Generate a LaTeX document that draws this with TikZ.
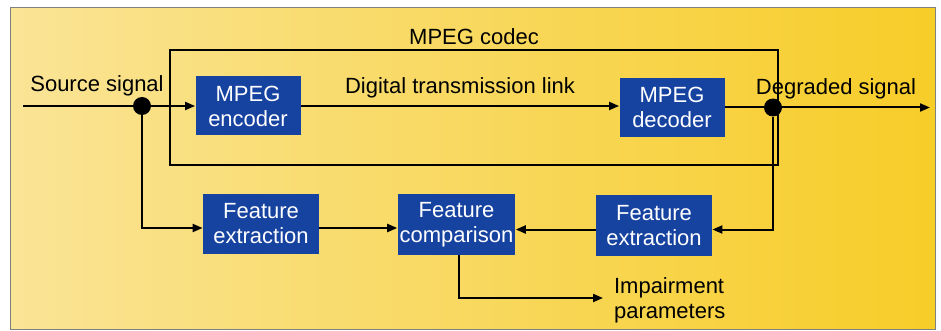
\documentclass[tikz,border=0pt]{standalone}
\usepackage{fontspec}
\setmainfont{Liberation Sans}
\usetikzlibrary{arrows.meta}

\definecolor{boxblue}{RGB}{22,66,160}
\definecolor{paleyellow}{RGB}{250,228,150}
\definecolor{deepyellow}{RGB}{247,205,40}

\begin{document}
\begin{tikzpicture}[x=0.5pt, y=-0.5pt, > = {Triangle[length=5pt,width=4pt]},
    block/.style = {fill=boxblue, text=white, align=center, minimum width=58pt, minimum height=30pt, inner sep=1pt, font=\fontsize{11}{12.5}\selectfont},
    junction/.style = {circle, fill=black, minimum size=9pt, inner sep=0pt},
    signal/.style = {line width=1pt},
    caption/.style = {font=\fontsize{11}{12.5}\selectfont}]

    % background
    \useasboundingbox (0,0) rectangle (941,331);
    \fill[left color=paleyellow, right color=deepyellow] (10,8) rectangle (935,329);
    \draw[gray, line width=0.5pt] (10,8) rectangle (935,329);

    % codec frame
    \node[draw, line width=1pt, minimum width=304pt, minimum height=57.5pt, inner sep=0pt,
          label={[caption, label distance=-1.5pt]above:MPEG codec}] (codec) at (474,107.5) {};

    % blocks
    \node[block, minimum width=52.5pt, minimum height=29.5pt] (enc) at (248,106) {MPEG\\encoder};
    \node[block, minimum width=52.5pt, minimum height=29.5pt] (dec) at (672,107.5) {MPEG\\decoder};
    \node[block] (fexl) at (261,224) {Feature\\extraction};
    \node[block] (fcmp) at (456.5,224.5) {Feature\\comparison};
    \node[block] (fexr) at (654,225.5) {Feature\\extraction};

    % junctions and ends
    \coordinate (in) at (23,106);
    \node[junction] (sdot) at (142,106) {};
    \node[junction] (ddot) at (773,107.5) {};
    \coordinate (out) at (930,107.5);
    \node[caption, anchor=west, align=left] (imp) at (607,300) {Impairment\\parameters};

    % labels
    \node[caption] at (97,86) {Source signal};
    \node[caption] at (460,88) {Digital transmission link};
    \node[caption] at (836,89) {Degraded signal};

    % signal path
    \draw[signal] (in) -- (sdot);
    \draw[signal, ->] (sdot) -- (enc);
    \draw[signal, ->] (enc) -- (dec.west |- enc);
    \draw[signal] (dec.east) -- (ddot);
    \draw[signal, ->] (ddot) -- (out);

    % feature paths
    \draw[signal, ->] (sdot) |- ([yshift=-2pt]fexl.west);
    \draw[signal, ->] ([yshift=-2pt]fexl.east) -- ([yshift=-2pt]fexl.east -| fcmp.west);
    \draw[signal, ->] (ddot) |- ([yshift=-2pt]fexr.east);
    \draw[signal, ->] ([yshift=-2pt]fexr.west) -- ([yshift=-2pt]fexr.west -| fcmp.east);
    \draw[signal, ->] ([xshift=1pt]fcmp.south) |- ([xshift=-2pt,yshift=1pt]imp.west);

\end{tikzpicture}
\end{document}
